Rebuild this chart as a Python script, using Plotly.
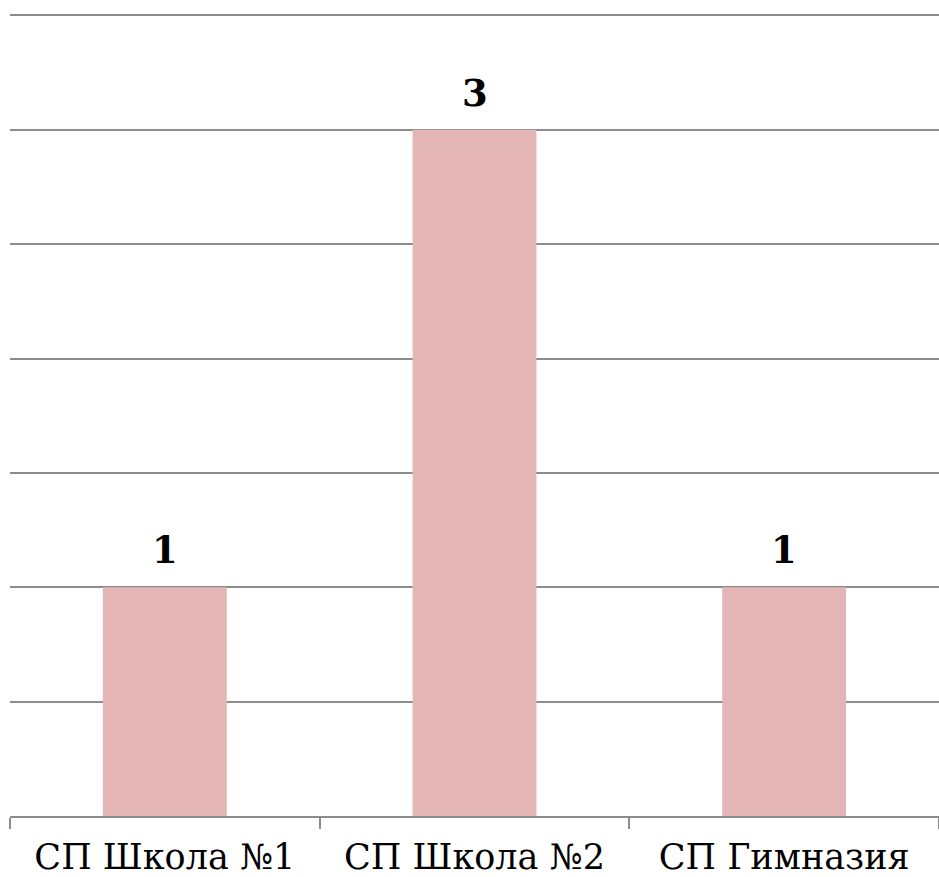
import plotly.graph_objects as go

categories = ["СП Школа №1", "СП Школа №2", "СП Гимназия"]
values = [1, 3, 1]

fig = go.Figure()
fig.add_trace(go.Bar(x=categories, y=values, marker_color="#E4B5B5", marker_line_width=0,
                     width=0.4, hoverinfo="skip"))

for c, v in zip(categories, values):
    fig.add_annotation(x=c, y=v, text="<b>%d</b>" % v, showarrow=False,
                       yanchor="bottom", yshift=13,
                       font=dict(family="DejaVu Serif", size=37, color="#000000"))

fig.update_layout(
    width=939, height=877,
    margin=dict(l=10, r=0, t=12, b=57),
    paper_bgcolor="white", plot_bgcolor="white",
    showlegend=False,
    xaxis=dict(showline=True, linecolor="#8C8C8C", linewidth=1.5,
               ticks="outside", tickson="boundaries", ticklen=11,
               tickcolor="#8C8C8C", tickwidth=1.5, ticklabelstandoff=9,
               tickfont=dict(family="DejaVu Serif", size=35, color="#000000"),
               showgrid=False),
    yaxis=dict(range=[0, 3.515], dtick=0.5, showticklabels=False,
               showgrid=True, gridcolor="#8C8C8C", gridwidth=1.5,
               zeroline=False, showline=False, ticks=""),
)

fig.write_html("out.html", config={"displayModeBar": False},
               post_script="document.body.style.margin='0';document.body.style.overflow='hidden';")
